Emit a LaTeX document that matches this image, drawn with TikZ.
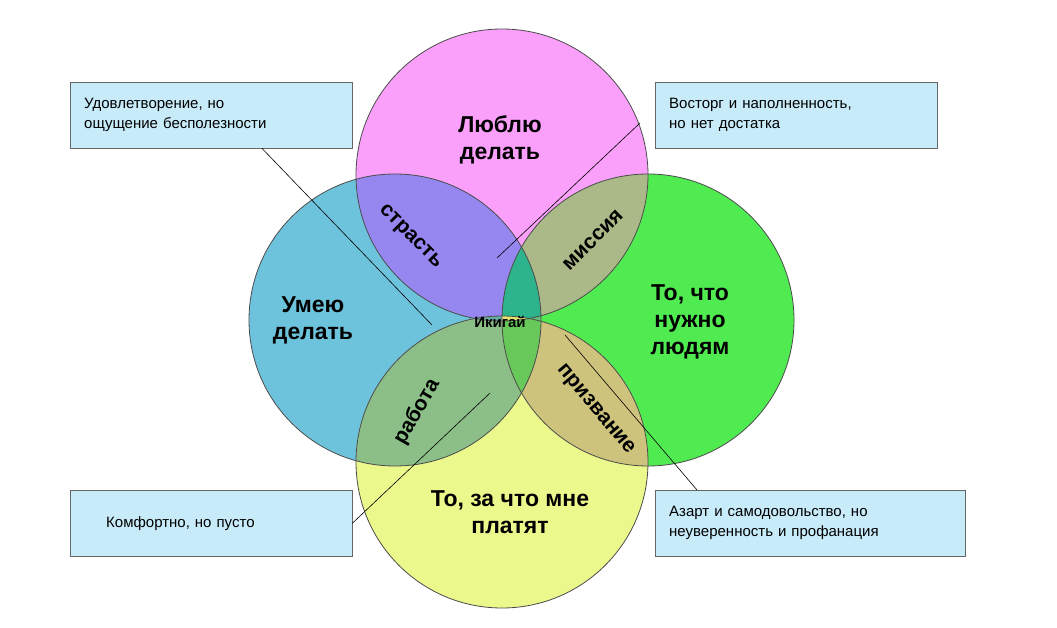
\documentclass[tikz,border=0pt]{standalone}
\usepackage{fontspec}
\setmainfont{Liberation Sans}
\begin{document}
\begin{tikzpicture}[x=1pt,y=-1pt,
  big/.style={font=\bfseries\fontsize{23}{27}\selectfont,align=center},
  lbl/.style={font=\bfseries\fontsize{21}{23}\selectfont},
  box/.style={draw=black!60,fill={rgb,255:red,200;green,235;blue,250},font=\fontsize{15}{20}\selectfont,align=left,anchor=north west,inner sep=0pt,text width=#1},
  ptr/.style={draw=black,line width=0.6pt}]
\useasboundingbox (0,0) rectangle (1057,628);
\fill[white] (0,0) rectangle (1057,628);
\def\T{(502,175) circle (146)}
\def\L{(395,320) circle (146)}
\def\R{(648,320) circle (146)}
\def\B{(502,462) circle (146)}
\fill[fill={rgb,255:red,250;green,160;blue,250}] \T;
\fill[fill={rgb,255:red,110;green,195;blue,220}] \L;
\fill[fill={rgb,255:red,80;green,235;blue,80}] \R;
\fill[fill={rgb,255:red,235;green,248;blue,140}] \B;
\begin{scope}\clip \T; \fill[fill={rgb,255:red,150;green,135;blue,240}] \L; \fill[fill={rgb,255:red,170;green,185;blue,135}] \R; \fill[fill={rgb,255:red,200;green,200;blue,140}] \B;\end{scope}
\begin{scope}\clip \B; \fill[fill={rgb,255:red,140;green,190;blue,135}] \L; \fill[fill={rgb,255:red,205;green,195;blue,125}] \R;\end{scope}
\begin{scope}\clip \L; \fill[fill={rgb,255:red,100;green,190;blue,120}] \R;\end{scope}
\begin{scope}\clip \T; \clip \L; \fill[fill={rgb,255:red,45;green,180;blue,140}] \R; \fill[fill={rgb,255:red,100;green,170;blue,160}] \B;\end{scope}
\begin{scope}\clip \T; \clip \R; \fill[fill={rgb,255:red,140;green,235;blue,70}] \B;\end{scope}
\begin{scope}\clip \L; \clip \R; \fill[fill={rgb,255:red,105;green,200;blue,90}] \B;\end{scope}
\begin{scope}\clip \T; \clip \L; \clip \R; \fill[fill={rgb,255:red,230;green,228;blue,110}] \B;\end{scope}
\foreach \c in {\T,\L,\R,\B} \draw[black!70,line width=0.8pt] \c;
\node[big] (love) at (500,140) {Люблю\\делать};
\node[big] (can) at (313,320) {Умею\\делать};
\node[big] (need) at (690,322) {То, что\\нужно\\людям};
\node[big] (paid) at (510,512) {То, за что мне\\платят};
\node[lbl,rotate=-45] (pas) at (410,237) {страсть};
\node[lbl,rotate=45] (mis) at (593,240) {миссия};
\node[lbl,rotate=60] (job) at (417,412) {работа};
\node[lbl,rotate=-50] (voc) at (595,410) {призвание};
\node[font=\bfseries\fontsize{15}{17}\selectfont] (iki) at (500,322) {Икигай};
\node[box=282pt,minimum height=66pt] (b1) at (70,82) {\hspace*{14pt}\parbox{265pt}{Удовлетворение, но\\ощущение бесполезности}};
\node[box=282pt,minimum height=66pt] (b2) at (655,82) {\hspace*{14pt}\parbox{265pt}{Восторг и наполненность,\\но нет достатка}};
\node[box=282pt,minimum height=66pt] (b3) at (70,490) {\hspace*{36pt}\parbox{240pt}{Комфортно, но пусто}};
\node[box=310pt,minimum height=66pt] (b4) at (655,490) {\hspace*{14pt}\parbox{293pt}{Азарт и самодовольство, но\\неуверенность и профанация}};
\coordinate (e1) at (432,325);
\coordinate (e2) at (497,258);
\coordinate (e3) at (490,393);
\coordinate (e4) at (565,335);
\draw[ptr] (b1.south west)++(192,0) -- (e1);
\draw[ptr] ([xshift=-15pt,yshift=-41pt]b2.north west) -- (e2);
\draw[ptr] (b3.east) -- (e3);
\draw[ptr] ([xshift=42pt]b4.north west) -- (e4);
\end{tikzpicture}
\end{document}
